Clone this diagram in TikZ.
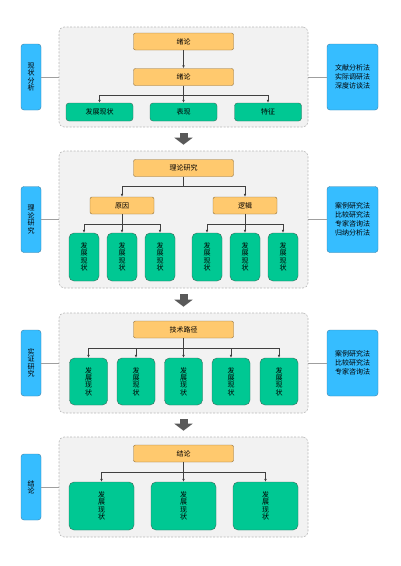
\documentclass[tikz,border=0pt]{standalone}
\usepackage{fontspec}
\setmainfont{Noto Sans CJK SC}
\usetikzlibrary{arrows.meta}
\definecolor{panelfill}{HTML}{F2F2F2}
\definecolor{orangefill}{HTML}{FFC96E}
\definecolor{orangeline}{HTML}{8C6D3A}
\definecolor{greenfill}{HTML}{00C893}
\definecolor{greenline}{HTML}{3B6B5C}
\definecolor{bluefill}{HTML}{36BDFF}
\definecolor{blueline}{HTML}{3C7FA6}

\begin{document}
\begin{tikzpicture}[x=1pt,y=-1pt,
  panel/.style={draw=gray!55, dash pattern=on 2pt off 1.5pt, fill=panelfill, rounded corners=5pt, line width=0.6pt, inner sep=0pt},
  head/.style={draw=orangeline, fill=orangefill, rounded corners=2pt, minimum width=100pt, minimum height=17pt, inner sep=1pt, font=\fontsize{7}{8}\selectfont},
  leaf/.style={draw=greenline, fill=greenfill, rounded corners=3pt, inner sep=1pt, font=\fontsize{7}{8}\selectfont},
  tall/.style={leaf, align=center, rounded corners=5pt, minimum height=48pt, font=\fontsize{7}{7.4}\selectfont},
  side/.style={draw=blueline, fill=bluefill, rounded corners=3pt, minimum width=20pt, minimum height=66pt, inner sep=1pt, align=center, font=\fontsize{7}{7.4}\selectfont},
  method/.style={side, minimum width=51pt, font=\fontsize{7}{9}\selectfont},
  link/.style={draw=gray!75, line width=0.6pt},
  arr/.style={draw=black!75, line width=0.5pt, -{Latex[length=3pt,width=2.6pt]}},
  bigarrow/.style={draw=black!65, line width=8pt, -{Triangle[width=18pt,length=7pt]}, shorten <=6pt, shorten >=6pt}]
\useasboundingbox (0,0) rectangle (400,566);

% panels
\node[panel, minimum width=249pt, minimum height=100pt] (p1) at (183.5,77) {};
\node[panel, minimum width=249pt, minimum height=137pt] (p2) at (183.5,219.5) {};
\node[panel, minimum width=249pt, minimum height=100pt] (p3) at (183.5,363) {};
\node[panel, minimum width=249pt, minimum height=100pt] (p4) at (183.5,487) {};

% big arrows between panels
\path[bigarrow] (p1.south) -- (p2.north);
\path[bigarrow] (p2.south) -- (p3.north);
\path[bigarrow] (p3.south) -- (p4.north);

% left labels
\node[side] (s1) at (31,77) {现\\状\\分\\析};
\node[side] (s2) at (31,219.5) {理\\论\\研\\究};
\node[side] (s3) at (31,363) {实\\证\\研\\究};
\node[side] (s4) at (31,487) {结\\论};
\path[link] (s1) -- (p1);
\path[link] (s2) -- (p2);
\path[link] (s3) -- (p3);
\path[link] (s4) -- (p4);

% right methods
\node[method] (m1) at (352.5,77) {文献分析法\\实际调研法\\深度访谈法};
\node[method] (m2) at (352.5,219.5) {案例研究法\\比较研究法\\专家咨询法\\归纳分析法};
\node[method] (m3) at (352.5,363) {案例研究法\\比较研究法\\专家咨询法};
\path[link] (p1) -- (m1);
\path[link] (p2) -- (m2);
\path[link] (p3) -- (m3);

% panel 1
\node[head] (xl1) at (183.5,41.5) {绪论};
\node[head] (xl2) at (183.5,77) {绪论};
\node[leaf, minimum width=67pt, minimum height=18pt] (fz) at (99.5,112) {发展现状};
\node[leaf, minimum width=67pt, minimum height=18pt] (bx) at (183.5,112) {表现};
\node[leaf, minimum width=67pt, minimum height=18pt] (tz) at (268,112) {特征};
\coordinate (b1) at (183.5,95);
\path[arr] (xl1) -- (xl2);
\path[draw=black!75, line width=0.5pt] (xl2) -- (b1);
\path[arr] (b1) -| (fz);
\path[arr] (b1) -- (bx);
\path[arr] (b1) -| (tz);

% panel 2
\node[head] (ll) at (183.5,168) {理论研究};
\node[head, minimum width=64pt] (yy) at (122,205.5) {原因};
\node[head, minimum width=64pt] (lj) at (245,205.5) {逻辑};
\node[tall, minimum width=30pt] (y1) at (84,257) {发\\展\\现\\状};
\node[tall, minimum width=30pt] (y2) at (122,257) {发\\展\\现\\状};
\node[tall, minimum width=30pt] (y3) at (160,257) {发\\展\\现\\状};
\node[tall, minimum width=30pt] (l1) at (207,257) {发\\展\\现\\状};
\node[tall, minimum width=30pt] (l2) at (245,257) {发\\展\\现\\状};
\node[tall, minimum width=30pt] (l3) at (283,257) {发\\展\\现\\状};
\coordinate (b2) at (183.5,186);
\coordinate (b2y) at (122,224);
\coordinate (b2l) at (245,224);
\path[draw=black!75, line width=0.5pt] (ll) -- (b2);
\path[arr] (b2) -| (yy);
\path[arr] (b2) -| (lj);
\path[draw=black!75, line width=0.5pt] (yy) -- (b2y);
\path[arr] (b2y) -| (y1);
\path[arr] (b2y) -- (y2);
\path[arr] (b2y) -| (y3);
\path[draw=black!75, line width=0.5pt] (lj) -- (b2l);
\path[arr] (b2l) -| (l1);
\path[arr] (b2l) -- (l2);
\path[arr] (b2l) -| (l3);

% panel 3
\node[head] (js) at (183.5,329.5) {技术路径};
\node[tall, minimum width=38pt, minimum height=47pt] (j1) at (88.5,381.5) {发\\展\\现\\状};
\node[tall, minimum width=38pt, minimum height=47pt] (j2) at (136,381.5) {发\\展\\现\\状};
\node[tall, minimum width=38pt, minimum height=47pt] (j3) at (183.5,381.5) {发\\展\\现\\状};
\node[tall, minimum width=38pt, minimum height=47pt] (j4) at (231,381.5) {发\\展\\现\\状};
\node[tall, minimum width=38pt, minimum height=47pt] (j5) at (279,381.5) {发\\展\\现\\状};
\coordinate (b3) at (183.5,348);
\path[draw=black!75, line width=0.5pt] (js) -- (b3);
\path[arr] (b3) -| (j1);
\path[arr] (b3) -| (j2);
\path[arr] (b3) -- (j3);
\path[arr] (b3) -| (j4);
\path[arr] (b3) -| (j5);

% panel 4
\node[head] (jl) at (183.5,453.5) {结论};
\node[tall, minimum width=65pt] (k1) at (101.5,506) {发\\展\\现\\状};
\node[tall, minimum width=65pt] (k2) at (183.5,506) {发\\展\\现\\状};
\node[tall, minimum width=65pt] (k3) at (265.5,506) {发\\展\\现\\状};
\coordinate (b4) at (183.5,472);
\path[draw=black!75, line width=0.5pt] (jl) -- (b4);
\path[arr] (b4) -| (k1);
\path[arr] (b4) -- (k2);
\path[arr] (b4) -| (k3);
\end{tikzpicture}
\end{document}
